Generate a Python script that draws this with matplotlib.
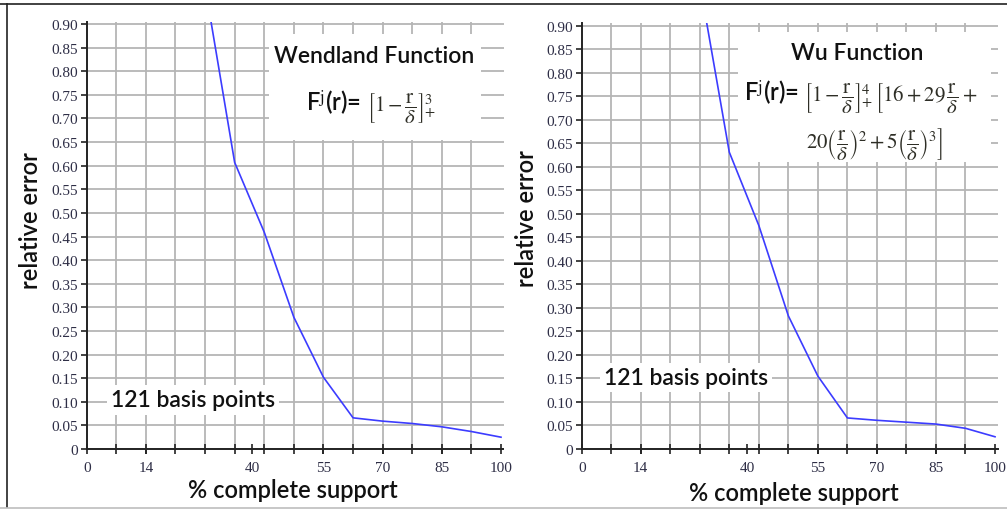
import matplotlib
matplotlib.use('Agg')
import matplotlib.pyplot as plt
from matplotlib.lines import Line2D
from matplotlib.patches import Rectangle

# ---------------- data ----------------
support = [28.57, 35.71, 42.86, 50.0, 57.14, 64.29, 71.43, 78.57, 85.71, 92.86, 100.0]
wendland_err = [0.98, 0.607, 0.459, 0.279, 0.152, 0.066, 0.059, 0.054, 0.047, 0.037, 0.025]
wu_err = [0.99, 0.631, 0.475, 0.283, 0.155, 0.066, 0.061, 0.057, 0.053, 0.044, 0.026]

x_tick_pos = [0, 14.29, 40, 57.14, 71.43, 85.71, 100]
x_tick_labels = ['0', '14', '40', '55', '70', '85', '100']
x_grid_pos = [k * 100 / 14 for k in range(15)]
y_ticks = [round(0.05 * k, 2) for k in range(19)]
y_tick_labels = ['0'] + ['%.2f' % v for v in y_ticks[1:]]

plt.rcParams['mathtext.fontset'] = 'stix'

W, H = 1007, 510
fig = plt.figure(figsize=(W / 100, H / 100), dpi=100)
fig.patch.set_facecolor('white')

SANS = ['Lato', 'DejaVu Sans']
WEIGHT = 'semibold'
LABEL_SIZE = 17
TICK_COLOR = '#2e2e46'
GRID_COLOR = '#b5b5b5'
LINE_COLOR = '#3c3cff'
MATH_COLOR = '#2e2e26'
MATH_SIZE = 15


def px_axes(x0, x1, y_top, y_bot):
    return [x0 / W, 1 - y_bot / H, (x1 - x0) / W, (y_bot - y_top) / H]


def style_axes(ax):
    ax.set_xlim(0, 100.6)
    ax.set_ylim(0, 0.905)
    ax.set_xticks(x_tick_pos)
    ax.set_xticklabels(x_tick_labels)
    ax.set_xticks(x_grid_pos, minor=True)
    ax.set_yticks(y_ticks)
    ax.set_yticklabels(y_tick_labels)
    ax.grid(which='minor', axis='x', color=GRID_COLOR, lw=1.3)
    ax.grid(which='major', axis='y', color=GRID_COLOR, lw=1.3)
    ax.grid(which='major', axis='x', visible=False)
    for s in ['top', 'right']:
        ax.spines[s].set_visible(False)
    for s in ['left', 'bottom']:
        ax.spines[s].set_color('#222222')
        ax.spines[s].set_linewidth(1.4)
    ax.tick_params(axis='x', which='both', direction='inout', length=7,
                   width=1.2, color='#222222')
    ax.tick_params(axis='x', which='major', pad=5, labelsize=11,
                   labelcolor=TICK_COLOR)
    ax.tick_params(axis='y', which='major', direction='out', length=4,
                   width=1.2, color='#222222', pad=2, labelsize=11,
                   labelcolor=TICK_COLOR)
    for lab in ax.get_xticklabels() + ax.get_yticklabels():
        lab.set_fontfamily('Liberation Serif')


def label(ax, x, y, s, size=16.5, **kw):
    return ax.text(x, y, s, ha='center', va='center', fontsize=size,
                   family=SANS, fontweight=WEIGHT, color='#111111', zorder=4,
                   **kw)


def formula(ax, x, y, lhs, rhs, dy_rhs=0.0):
    # lhs in sans (right-aligned at x), rhs in math (left-aligned at x)
    ax.annotate(lhs, (x, y), xytext=(-2, 0), textcoords='offset points',
                ha='right', va='center', fontsize=17, family=SANS,
                fontweight=WEIGHT, color='#111111', zorder=4)
    ax.annotate(rhs, (x, y + dy_rhs), xytext=(2, 0), textcoords='offset points',
                ha='left', va='center', fontsize=MATH_SIZE, color=MATH_COLOR,
                zorder=4)


FRAC = r'\dfrac{\mathrm{r}}{\delta}'

# ---------------- left panel ----------------
axL = fig.add_axes(px_axes(86.7, 503.5, 22.7, 450))
style_axes(axL)
axL.plot(support, wendland_err, color=LINE_COLOR, lw=1.2, zorder=3, clip_on=True)
axL.add_patch(Rectangle((44.0, 0.655), 51.2, 0.223, facecolor='white',
                        edgecolor='none', zorder=2))
label(axL, 69.3, 0.833, 'Wendland Function')
formula(axL, 66.9, 0.734, r'F$^{\mathrm{j}}$(r)=',
        r'$\left[1-' + FRAC + r'\right]_{+}^{3}$', dy_rhs=-0.01)
label(axL, 25.6, 0.104, '121 basis points',
      bbox=dict(facecolor='white', edgecolor='none', pad=3))

# ---------------- right panel ----------------
axR = fig.add_axes(px_axes(581.7, 997.5, 24.3, 450))
style_axes(axR)
axR.plot(support, wu_err, color=LINE_COLOR, lw=1.2, zorder=3, clip_on=True)
axR.add_patch(Rectangle((37.7, 0.61), 61.3, 0.276, facecolor='white',
                        edgecolor='none', zorder=2))
label(axR, 66.7, 0.843, 'Wu Function')
formula(axR, 53.2, 0.758, r'F$^{\mathrm{j}}$(r)=',
        r'$\left[1-' + FRAC + r'\right]_{+}^{4}\,\left[16+29\,' + FRAC
        + r'+\right.$', dy_rhs=-0.01)
axR.text(70.9, 0.650,
         r'$\left.20\left(' + FRAC + r'\right)^{2}+5\left(' + FRAC
         + r'\right)^{3}\right]$',
         ha='center', va='center', fontsize=MATH_SIZE, color=MATH_COLOR,
         zorder=4)
label(axR, 25.2, 0.152, '121 basis points',
      bbox=dict(facecolor='white', edgecolor='none', pad=3))

# ---------------- axis titles ----------------
for x, y, s, rot in [(31, 221, 'relative error', 90),
                     (527, 219, 'relative error', 90),
                     (292.5, 491, '% complete support', 0),
                     (794, 494, '% complete support', 0)]:
    fig.text(x / W, 1 - y / H, s, rotation=rot, ha='center', va='center',
             fontsize=LABEL_SIZE, family=SANS, fontweight=WEIGHT,
             color='#111111')

# ---------------- frame lines ----------------
fig.add_artist(Line2D([0, 1], [1 - 5 / H, 1 - 5 / H], color='#333333', lw=1.3,
                      transform=fig.transFigure))
fig.add_artist(Line2D([7 / W, 7 / W], [1 - 5 / H, 1 - 508 / H], color='#222222',
                      lw=1.2, transform=fig.transFigure))
fig.add_artist(Line2D([0, 1], [1 - 508.5 / H, 1 - 508.5 / H], color='#bdbdbd',
                      lw=1.2, transform=fig.transFigure))

fig.savefig('out.png', dpi=100, facecolor='white')
